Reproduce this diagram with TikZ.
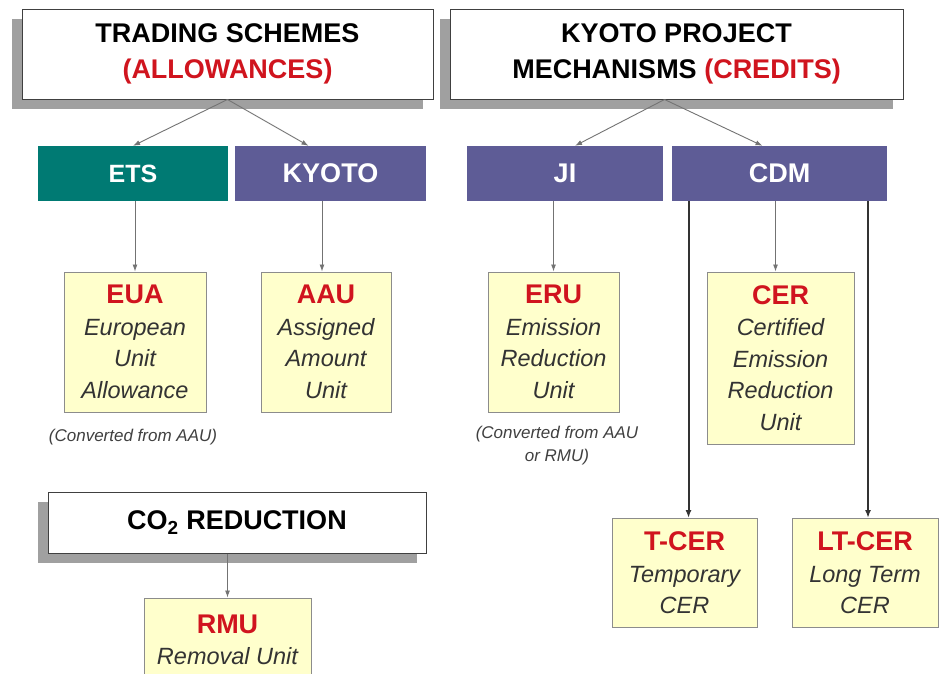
\documentclass[tikz,border=0pt]{standalone}
\usepackage{fontspec}
\setmainfont{Liberation Sans}
\usetikzlibrary{shadows,arrows.meta,calc}
\definecolor{unitred}{RGB}{208,20,30}
\definecolor{etsteal}{RGB}{0,122,115}
\definecolor{kyopurple}{RGB}{94,92,150}
\definecolor{unityellow}{RGB}{255,255,204}
\definecolor{shadowgray}{RGB}{160,160,160}
\tikzset{
  x=1pt, y=-1pt,
  headbox/.style={draw=black!75, line width=1pt, fill=white, inner sep=0pt,
    align=center, font=\fontsize{27}{36}\selectfont\bfseries,
    drop shadow={shadow xshift=-10pt, shadow yshift=-10pt, fill=shadowgray, opacity=1}},
  schemebox/.style={draw=none, inner sep=0pt, minimum height=55pt, text=white,
    font=\fontsize{27}{32}\selectfont\bfseries},
  unitbox/.style={draw=black!45, line width=1pt, fill=unityellow, inner sep=0pt,
    align=center, font=\fontsize{23.5}{31.5}\selectfont\itshape, text=black!80},
  note/.style={align=center, font=\fontsize{17}{23}\selectfont\itshape, text=black!75},
  conn/.style={draw=black!55, line width=0.9pt, -{Latex[length=7pt,width=5pt]}},
  thickconn/.style={draw=black!80, line width=2pt, -{Latex[length=8pt,width=6pt]}},
}
\newcommand{\utitle}[1]{{\fontsize{27}{31.5}\selectfont\bfseries\upshape\color{unitred}#1}}
\begin{document}
\begin{tikzpicture}
\useasboundingbox (0,0) rectangle (939,673);
\clip (0,0) rectangle (939,673);
\fill[white] (0,0) rectangle (939,673);

% header boxes
\node[headbox, minimum width=411pt, minimum height=90pt] (trade) at (227.5,54)
  {TRADING SCHEMES\\\textcolor{unitred}{(ALLOWANCES)}};
\node[headbox, minimum width=453pt, minimum height=90pt] (kpm) at (676.5,54)
  {KYOTO PROJECT\\MECHANISMS \textcolor{unitred}{(CREDITS)}};

% scheme boxes
\node[schemebox, fill=etsteal, minimum width=190pt, font=\fontsize{25}{32}\selectfont\bfseries] (ets) at (133,173.5) {ETS};
\node[schemebox, fill=kyopurple, minimum width=191pt] (kyoto) at (330.5,173.5) {KYOTO};
\node[schemebox, fill=kyopurple, minimum width=196pt] (ji) at (565,173.5) {JI};
\node[schemebox, fill=kyopurple, minimum width=215pt] (cdm) at (779.5,173.5) {CDM};

% unit boxes
\node[unitbox, minimum width=142pt, minimum height=140pt] (eua) at (135,342)
  {\utitle{EUA}\\European\\Unit\\Allowance};
\node[unitbox, minimum width=130pt, minimum height=140pt] (aau) at (326,342)
  {\utitle{AAU}\\Assigned\\Amount\\Unit};
\node[unitbox, minimum width=131pt, minimum height=140pt] (eru) at (553.5,342)
  {\utitle{ERU}\\Emission\\Reduction\\Unit};
\node[unitbox, minimum width=147pt, minimum height=172pt] (cer) at (780.5,358)
  {\utitle{CER}\\Certified\\Emission\\Reduction\\Unit};
\node[unitbox, minimum width=145pt, minimum height=109pt] (tcer) at (684.5,573)
  {\utitle{T-CER}\\Temporary\\CER};
\node[unitbox, minimum width=146pt, minimum height=109pt] (ltcer) at (865,573)
  {\utitle{LT-CER}\\Long Term\\CER};

% notes
\node[note] (noteeua) at (133,437) {(Converted from AAU)};
\node[note] (noteeru) at (557,446) {(Converted from AAU\\or RMU)};

% CO2 reduction
\node[headbox, minimum width=378pt, minimum height=61pt,
  drop shadow={shadow xshift=-9pt, shadow yshift=-10pt, fill=shadowgray, opacity=1}] (co2) at (237,522.5)
  {CO\textsubscript{2} REDUCTION};
\node[unitbox, minimum width=167pt, minimum height=84pt] (rmu) at (227.5,640)
  {\utitle{RMU}\\Removal Unit};

% connectors
\draw[conn] (trade.south) -- (ets.north);
\draw[conn] (trade.south) -- ([xshift=-22pt]kyoto.north);
\draw[conn] ([xshift=-12pt]kpm.south) -- ([xshift=10pt]ji.north);
\draw[conn] ([xshift=-12pt]kpm.south) -- ([xshift=-17pt]cdm.north);
\draw[conn] (eua.north |- ets.south) -- (eua.north);
\draw[conn] ([xshift=-4pt]aau.north |- kyoto.south) -- ([xshift=-4pt]aau.north);
\draw[conn] (eru.north |- ji.south) -- (eru.north);
\draw[conn] ([xshift=-5pt]cer.north |- cdm.south) -- ([xshift=-5pt]cer.north);
\draw[thickconn] ([xshift=4pt]tcer.north |- cdm.south) -- ([xshift=4pt]tcer.north);
\draw[thickconn] ([xshift=3pt]ltcer.north |- cdm.south) -- ([xshift=3pt]ltcer.north);
\draw[conn] (rmu.north |- co2.south) -- (rmu.north);
\end{tikzpicture}
\end{document}
